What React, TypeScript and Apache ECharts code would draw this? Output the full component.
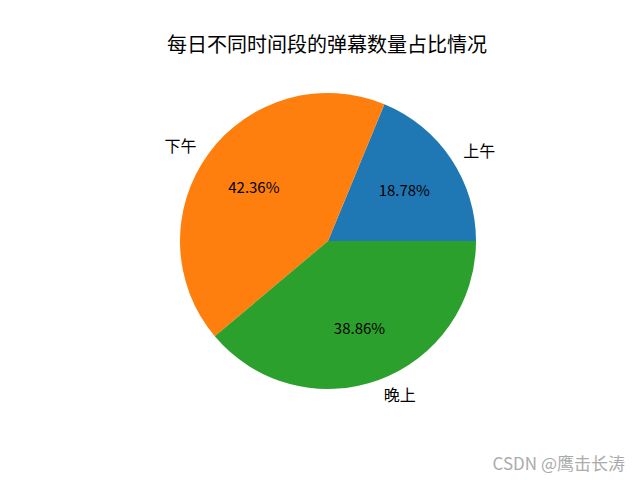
import React, { useEffect, useRef } from "react";
import * as echarts from "echarts";

const titleText = "每日不同时间段的弹幕数量占比情况";
const categories = ["上午", "下午", "晚上"];
const values = [18.78, 42.36, 38.86];
const colors = ["#1f77b4", "#ff7f0e", "#2ca02c"];
const watermark = "CSDN @鹰击长涛";

const FONT = "'Noto Sans CJK SC', 'Noto Sans', sans-serif";

export default function App() {
  const ref = useRef<HTMLDivElement>(null);
  useEffect(() => {
    if (!ref.current) return;
    const chart = echarts.init(ref.current, undefined, { renderer: "svg" });
    const R = 148;
    const center = [328, 241];
    const total = values.reduce((a, b) => a + b, 0);
    const data = categories.map((c, i) => ({ name: c, value: values[i] }));
    chart.setOption({
      animation: false,
      backgroundColor: "#ffffff",
      color: colors,
      graphic: [
        {
          type: "text",
          x: 327,
          y: 43,
          style: {
            text: titleText,
            fontSize: 20,
            fontFamily: FONT,
            fill: "#000",
            align: "center",
            verticalAlign: "middle",
          },
        },
        {
          type: "text",
          x: 625,
          y: 462,
          style: {
            text: watermark,
            fontSize: 17,
            fontFamily: FONT,
            fill: "#ababab",
            align: "right",
            verticalAlign: "middle",
          },
        },
      ],
      series: [
        {
          type: "pie",
          center,
          radius: [0, R],
          startAngle: 0,
          clockwise: false,
          avoidLabelOverlap: false,
          silent: true,
          itemStyle: { borderWidth: 0 },
          label: {
            show: true,
            position: "outer",
            alignTo: "none",
            distanceToLabelLine: 0,
            fontSize: 16,
            fontFamily: FONT,
            color: "#000",
            formatter: "{b}",
          },
          labelLine: { show: false, length: R * 0.1, length2: 0 },
          data,
        },
        {
          type: "pie",
          center,
          radius: [R * 0.2, R],
          startAngle: 0,
          clockwise: false,
          avoidLabelOverlap: false,
          silent: true,
          itemStyle: { color: "transparent", borderWidth: 0 },
          label: {
            show: true,
            position: "inside",
            fontSize: 15,
            fontFamily: FONT,
            color: "#000",
            formatter: (p: any) => ((p.value / total) * 100).toFixed(2) + "%",
          },
          labelLine: { show: false },
          data,
        },
      ],
    });
    return () => chart.dispose();
  }, []);
  return (
    <div
      ref={ref}
      style={{ position: "fixed", left: 0, top: 0, width: 640, height: 480 }}
    />
  );
}
